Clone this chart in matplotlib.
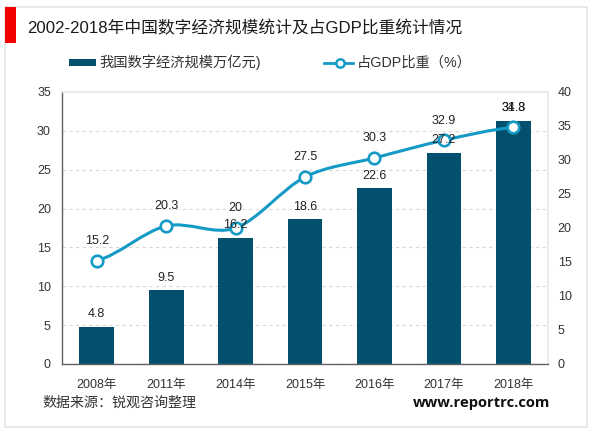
import matplotlib
matplotlib.use('Agg')
import matplotlib.pyplot as plt
from matplotlib.path import Path
from matplotlib.patches import PathPatch, Rectangle
from matplotlib.lines import Line2D
import numpy as np

plt.rcParams['font.family'] = ['Liberation Sans', 'Noto Sans CJK SC', 'DejaVu Sans']

years = ['2008年', '2011年', '2014年', '2015年', '2016年', '2017年', '2018年']
scale = [4.8, 9.5, 16.2, 18.6, 22.6, 27.2, 31.3]
share = [15.2, 20.3, 20, 27.5, 30.3, 32.9, 34.8]
title = '2002-2018年中国数字经济规模统计及占GDP比重统计情况'
bar_name = '我国数字经济规模万亿元)'
line_name = '占GDP比重（%）'
source = '数据来源：锐观咨询整理'
site = 'www.reportrc.com'

W, H = 600, 433
BAR = '#02506d'
LINE = '#159ac6'
fig = plt.figure(figsize=(W/100, H/100), dpi=100)
def fx(x): return x/W
def fy(y): return 1-y/H

fig.patches.append(Rectangle((fx(5), fy(427)), 582/W, 420/H, transform=fig.transFigure,
                             fc='white', ec='#e6e6e6', lw=1.3, zorder=-2))
fig.patches.append(Rectangle((fx(5), fy(43)), 11/W, 36/H, transform=fig.transFigure,
                             fc='#f50000', ec='none', zorder=-1))

left, right, top, bottom = 62, 548, 92, 364
ax = fig.add_axes([fx(left), fy(bottom), (right-left)/W, (bottom-top)/H])
x = np.arange(len(years))
ax.bar(x, scale, width=0.5, color=BAR, zorder=2)
ax.set_xlim(-0.5, len(years)-0.5)
ax.set_ylim(0, 35)
ax.set_yticks(range(0, 36, 5))
ax.set_xticks(x, years)
ax.yaxis.grid(True, color='#d8d8d8', ls=(0, (3, 3)), lw=0.8)
ax.set_axisbelow(True)
for s in ['top', 'right']:
    ax.spines[s].set_color('#e8e8e8')
    ax.spines[s].set_linewidth(1.2)
for s in ['left', 'bottom']:
    ax.spines[s].set_color('#606060')
    ax.spines[s].set_linewidth(1.0)
ax.tick_params(length=0, labelsize=9, labelcolor='#333333')
ax.tick_params(axis='x', pad=11)
ax.tick_params(axis='y', pad=8)

ax2 = ax.twinx()
ax2.set_ylim(0, 40)
ax2.set_yticks(range(0, 41, 5))
ax2.tick_params(length=0, labelsize=9, labelcolor='#333333', pad=7)
for s in ax2.spines.values():
    s.set_visible(False)

# smooth connector through the data points
y = np.array(share, dtype=float)
verts = [(x[0], y[0])]
codes = [Path.MOVETO]
t = 0.16
for i in range(len(x)-1):
    p0 = y[max(i-1, 0)]; p1 = y[i]; p2 = y[i+1]; p3 = y[min(i+2, len(y)-1)]
    verts += [(x[i]+t*2, p1+(p2-p0)*t), (x[i+1]-t*2, p2-(p3-p1)*t), (x[i+1], p2)]
    codes += [Path.CURVE4]*3
ax2.add_patch(PathPatch(Path(verts, codes), fc='none', ec=LINE, lw=2.2, zorder=3))
ax2.plot(x, y, ls='none', marker='o', ms=8.3, mfc='white', mec=LINE, mew=1.9, zorder=4)

for xi, v in zip(x, scale):
    ax2.text(xi, v+0.85, f'{v:g}', ha='center', va='bottom', fontsize=9, color='#222222',
             zorder=5, transform=ax.transData)
for xi, v in zip(x, share):
    ax2.text(xi, v+2.0, f'{v:g}', ha='center', va='bottom', fontsize=9, color='#222222', zorder=5)

fig.text(fx(27), fy(28), title, fontsize=12.05, color='#1a1a1a', va='center', ha='left')
fig.patches.append(Rectangle((fx(69), fy(66)), 27/W, 7/H, transform=fig.transFigure, fc=BAR, ec='none'))
fig.text(fx(99), fy(62.5), bar_name, fontsize=10.3, color='#333333', va='center', ha='left')
fig.add_artist(Line2D([fx(324), fx(353)], [fy(63), fy(63)], color=LINE, lw=2.0,
                      transform=fig.transFigure))
fig.add_artist(Line2D([fx(340)], [fy(63)], color=LINE, ls='none', marker='o', ms=6,
                      mfc='white', mec=LINE, mew=1.8, transform=fig.transFigure))
fig.text(fx(357), fy(62.5), line_name, fontsize=10.3, color='#333333', va='center', ha='left')
fig.text(fx(42), fy(403), source, fontsize=10.1, color='#333333', va='center', ha='left')
fig.text(fx(550), fy(403), site, fontsize=10.6, color='#111111', va='center', ha='right',
         fontweight='bold', family=['Open Sans', 'DejaVu Sans'])

fig.savefig('out.png', dpi=100)
